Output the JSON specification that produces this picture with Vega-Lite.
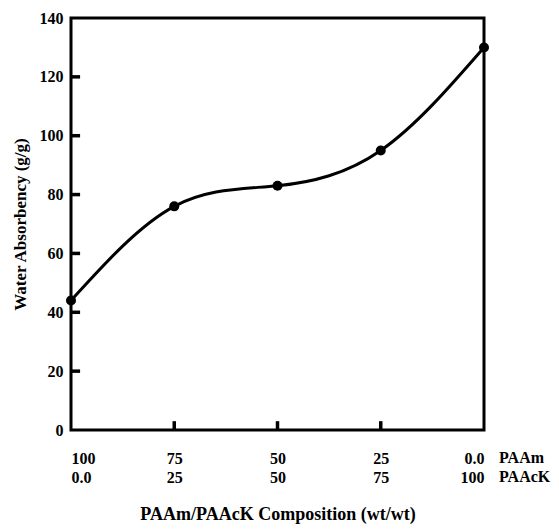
{
  "$schema": "https://vega.github.io/schema/vega-lite/v6.json",
  "autosize": {"type": "none"},
  "width": 413,
  "height": 412,
  "padding": {"left": 71, "top": 18, "right": 75, "bottom": 101},
  "background": "white",
  "config": {
    "view": {"stroke": "black", "strokeWidth": 3},
    "font": "Liberation Serif",
    "axis": {
      "ticks": false,
      "labelFont": "Liberation Serif",
      "labelFontWeight": "bold",
      "labelFontSize": 16,
      "labelColor": "black",
      "titleFont": "Liberation Serif",
      "titleFontWeight": "bold",
      "titleFontSize": 18,
      "titleColor": "black",
      "domain": false,
      "grid": false
    }
  },
  "datasets": {
    "absorbency": [
      {"paack": 0, "absorbency": 44},
      {"paack": 25, "absorbency": 76},
      {"paack": 50, "absorbency": 83},
      {"paack": 75, "absorbency": 95},
      {"paack": 100, "absorbency": 130}
    ],
    "yticks": [{"v": 20}, {"v": 40}, {"v": 60}, {"v": 80}, {"v": 100}, {"v": 120}],
    "xticks": [{"v": 25}, {"v": 50}, {"v": 75}]
  },
  "layer": [
    {
      "data": {"name": "absorbency"},
      "mark": {"type": "line", "interpolate": "natural", "color": "black", "strokeWidth": 3},
      "encoding": {
        "x": {
          "field": "paack",
          "type": "quantitative",
          "scale": {"domain": [0, 100]},
          "axis": {
            "values": [0, 25, 50, 75, 100],
            "title": "PAAm/PAAcK Composition (wt/wt)",
            "titlePadding": 20,
            "labelPadding": 20,
            "labelLineHeight": 19,
            "labelBaseline": "top",
            "labelExpr": "[datum.value == 100 ? '0.0' : toString(100 - datum.value), datum.value == 0 ? '0.0' : toString(datum.value)]"
          }
        },
        "y": {
          "field": "absorbency",
          "type": "quantitative",
          "scale": {"domain": [0, 140]},
          "axis": {
            "values": [0, 20, 40, 60, 80, 100, 120, 140],
            "title": "Water Absorbency (g/g)",
            "titleFontSize": 17,
            "labelPadding": 8,
            "titlePadding": 10
          }
        }
      }
    },
    {
      "data": {"name": "absorbency"},
      "mark": {"type": "point", "filled": true, "color": "black", "opacity": 1, "size": 100},
      "encoding": {
        "x": {"field": "paack", "type": "quantitative"},
        "y": {"field": "absorbency", "type": "quantitative"}
      }
    },
    {
      "data": {"name": "yticks"},
      "mark": {"type": "rule", "color": "black", "strokeWidth": 3.5},
      "encoding": {
        "y": {"field": "v", "type": "quantitative"},
        "x": {"datum": 0, "type": "quantitative"},
        "x2": {"datum": 2.2}
      }
    },
    {
      "data": {"name": "xticks"},
      "mark": {"type": "rule", "color": "black", "strokeWidth": 3.5},
      "encoding": {
        "x": {"field": "v", "type": "quantitative"},
        "y": {"datum": 0, "type": "quantitative"},
        "y2": {"datum": 3}
      }
    },
    {
      "data": {"name": "absorbency"},
      "transform": [{"filter": "datum.paack == 100"}],
      "mark": {
        "type": "text",
        "align": "left",
        "baseline": "top",
        "dx": 15,
        "dy": 20,
        "lineHeight": 19,
        "font": "Liberation Serif",
        "fontWeight": 700,
        "fontSize": 16,
        "color": "black",
        "text": ["PAAm", "PAAcK"]
      },
      "encoding": {
        "x": {"field": "paack", "type": "quantitative"},
        "y": {"datum": 0, "type": "quantitative"}
      }
    }
  ]
}
